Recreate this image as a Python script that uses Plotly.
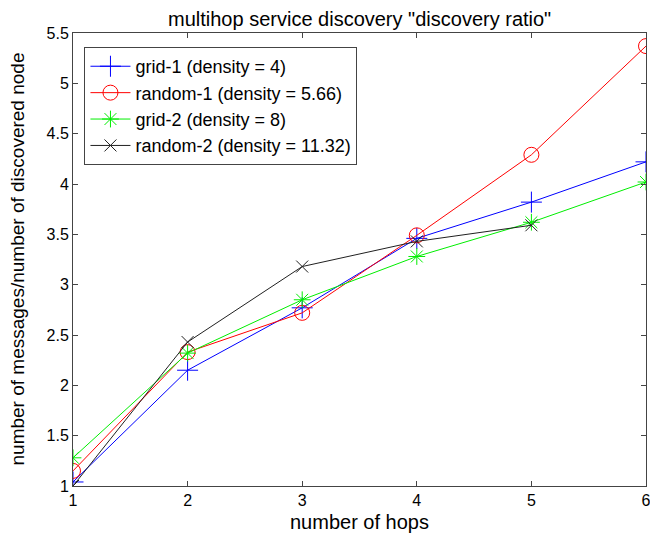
import plotly.graph_objects as go

hops = [1, 2, 3, 4, 5, 6]
hops_r2 = [1, 2, 3, 4, 5]
grid1 = [1.04, 2.15, 2.77, 3.46, 3.82, 4.22]
random1 = [1.15, 2.33, 2.72, 3.49, 4.29, 5.37]
grid2 = [1.28, 2.32, 2.85, 3.28, 3.62, 4.02]
random2 = [1.00, 2.43, 3.18, 3.43, 3.59]
names = ["grid-1 (density = 4)", "random-1 (density = 5.66)",
         "grid-2 (density = 8)", "random-2 (density = 11.32)"]
yticks = [1, 1.5, 2, 2.5, 3, 3.5, 4, 4.5, 5, 5.5]
yticklabels = ["1", "1.5", "2", "2.5", "3", "3.5", "4", "4.5", "5", "5.5"]

FONT = "Liberation Sans, Arial, sans-serif"

fig = go.Figure()
series = [
    (hops, grid1, names[0], "#0000ff", "cross-thin-open", 15),
    (hops, random1, names[1], "#ff0000", "circle-open", 15),
    (hops, grid2, names[2], "#00ee00", "asterisk-open", 14),
    (hops_r2, random2, names[3], "#202020", "x-thin-open", 12),
]
for xs, ys, nm, col, sym, sz in series:
    fig.add_trace(go.Scatter(
        x=xs, y=ys, name=nm, mode="lines+markers",
        line=dict(color=col, width=1),
        marker=dict(symbol=sym, size=sz, color=col, line=dict(color=col, width=1)),
    ))

axis_common = dict(showline=True, linecolor="#444", linewidth=1, mirror="ticks",
                   ticks="inside", ticklen=5, tickcolor="#444", showgrid=False,
                   zeroline=False, ticklabeloverflow="allow", automargin=False,
                   tickfont=dict(family=FONT, size=16, color="black"))
fig.update_xaxes(range=[1, 6], tickvals=hops, ticktext=[str(h) for h in hops], **axis_common)
fig.update_yaxes(range=[1, 5.5], tickvals=yticks, ticktext=yticklabels, **axis_common)

fig.update_layout(
    width=650, height=538,
    margin=dict(l=73, r=4, t=33, b=52, autoexpand=False),
    paper_bgcolor="white", plot_bgcolor="white",
    font=dict(family=FONT, color="black"),
    showlegend=True,
    legend=dict(x=0.02, y=0.969, xanchor="left", yanchor="top",
                bgcolor="white", bordercolor="#444", borderwidth=1,
                font=dict(family=FONT, size=18, color="black"),
                tracegroupgap=0, itemwidth=40),
    annotations=[
        dict(text='multihop service discovery "discovery ratio"', xref="paper", yref="paper",
             x=0.5, y=1 + 14 / 453, xanchor="center", yanchor="middle", showarrow=False,
             font=dict(family=FONT, size=20, color="black")),
        dict(text="number of hops", xref="paper", yref="paper",
             x=0.5, y=-36 / 453, xanchor="center", yanchor="middle", showarrow=False,
             font=dict(family=FONT, size=20, color="black")),
        dict(text="number of messages/number of discovered node", xref="paper", yref="paper",
             x=(17 - 73) / 573, y=0.5, xanchor="center", yanchor="middle", showarrow=False,
             textangle=-90, font=dict(family=FONT, size=19, color="black")),
    ],
)

fig.write_html("out.html", config={"displayModeBar": False},
               post_script="document.body.style.margin='0';")
